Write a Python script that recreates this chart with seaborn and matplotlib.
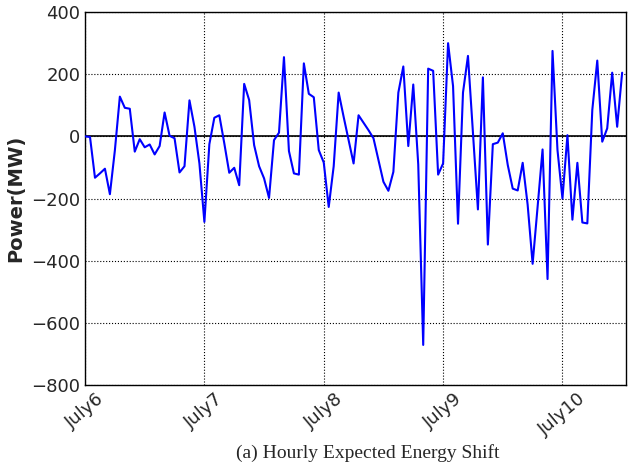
import numpy as np
import pandas as pd
import matplotlib
matplotlib.use("Agg")
import matplotlib.pyplot as plt
import seaborn as sns

hours = list(range(109))
power = [0, -2, -133, -119, -104, -186, -45, 128, 92, 89,
         -49, -9, -35, -26, -58, -31, 77, 2, -6, -116,
         -96, 116, 31, -87, -275, -25, 60, 68, -22, -117,
         -101, -157, 169, 117, -28, -96, -135, -198, -12, 12,
         255, -47, -119, -123, 235, 137, 126, -44, -84, -227,
         -96, 141, 63, -12, -87, 68, 44, 20, -6, -76,
         -146, -175, -114, 141, 225, -31, 167, -90, -671, 218,
         211, -123, -87, 300, 162, -281, 141, 259, 12, -235,
         190, -348, -25, -20, 10, -92, -168, -174, -85, -220,
         -410, -227, -42, -459, 275, -44, -200, 4, -268, -85,
         -277, -280, 85, 244, -17, 26, 205, 31, 205]
tick_pos = [0, 24, 48, 72, 96]
tick_labels = ["July6", "July7", "July8", "July9", "July10"]
y_ticks = [-800, -600, -400, -200, 0, 200, 400]

df = pd.DataFrame({"hour": hours, "power": power})

sns.set_style("white")
plt.rcParams['font.family'] = ['DejaVu Sans']

fig = plt.figure(figsize=(6.28, 4.65), dpi=100)
ax = fig.add_axes([0.1354, 0.172, 0.997 - 0.1354, 0.974 - 0.172])

ax.axhline(0, color="black", lw=1.2, zorder=1)
sns.lineplot(data=df, x="hour", y="power", color="#0000ff", lw=1.5, ax=ax, zorder=3)

ax.set_xlim(0, 108.8)
ax.set_ylim(-800, 400)
ax.set_xticks(tick_pos)
ax.set_xticklabels(tick_labels, rotation=40, ha="center", fontsize=13)
ax.set_yticks(y_ticks)
ax.set_yticklabels(["\u2212800", "\u2212600", "\u2212400", "\u2212200", "0", "200", "400"], fontsize=13)
ax.tick_params(direction="in", length=4, color="black")
ax.grid(True, color="black", linestyle=":", lw=0.8)
ax.set_xlabel("")
ax.set_ylabel("Power(MW)", fontsize=14, fontweight="bold")
for s in ax.spines.values():
    s.set_color("black")
    s.set_linewidth(1.0)

fig.text(0.586, 0.026, "(a) Hourly Expected Energy Shift", ha="center", va="center",
         fontsize=14, family=["Liberation Serif"])

fig.savefig("out.png", dpi=100)
